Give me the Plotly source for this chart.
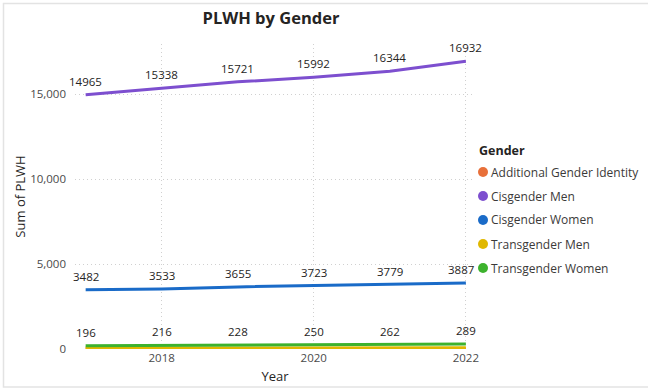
import plotly.graph_objects as go

years = [2017, 2018, 2019, 2020, 2021, 2022]
genders = ["Additional Gender Identity", "Cisgender Men", "Cisgender Women",
           "Transgender Men", "Transgender Women"]
additional_gender_identity = [8, 9, 10, 11, 12, 13]
cisgender_men = [14965, 15338, 15721, 15992, 16344, 16932]
cisgender_women = [3482, 3533, 3655, 3723, 3779, 3887]
transgender_men = [55, 58, 62, 66, 70, 78]
transgender_women = [196, 216, 228, 250, 262, 289]

series = {
    "Additional Gender Identity": additional_gender_identity,
    "Cisgender Men": cisgender_men,
    "Cisgender Women": cisgender_women,
    "Transgender Men": transgender_men,
    "Transgender Women": transgender_women,
}
colors = {
    "Additional Gender Identity": "#E8703A",
    "Cisgender Men": "#7D4FCF",
    "Cisgender Women": "#1A6BC8",
    "Transgender Men": "#E0B800",
    "Transgender Women": "#3DB22D",
}
labelled = ["Cisgender Men", "Cisgender Women", "Transgender Women"]

FONT = "Open Sans"
TEXT = "#252423"
fig = go.Figure()

# Lines, ordered so the labelled series sit on top
draw_order = ["Additional Gender Identity", "Transgender Men", "Transgender Women",
              "Cisgender Women", "Cisgender Men"]
for g in draw_order:
    fig.add_trace(go.Scatter(
        x=years, y=series[g], name=g, mode="lines",
        line=dict(color=colors[g], width=3),
        cliponaxis=False, showlegend=False, hoverinfo="skip",
    ))

annotations = []
# Data labels above each point of the labelled series
for g in labelled:
    for i, (x, v) in enumerate(zip(years, series[g])):
        # nudge the last blue label left so it clears the legend swatch
        nudge = -5 if (g == "Cisgender Women" and i == len(years) - 1) else 0
        annotations.append(dict(
            x=x, y=v, xref="x", yref="y", text=str(v), showarrow=False,
            yshift=13.5, xshift=nudge, font=dict(family=FONT, size=11.5, color=TEXT),
        ))

# plot area spans pixels x 75..475, y 44..349
L, R, T, B = 75, 475, 44, 349
W, H = 648, 392


def px(x):
    return (x - L) / (R - L)


def py(y):
    return (B - y) / (B - T)


# Hand-built legend: title, circle swatches and names
annotations.append(dict(
    x=px(477), y=py(150), xref="paper", yref="paper", xanchor="left", yanchor="middle",
    text="<b>Gender</b>", showarrow=False, font=dict(family=FONT, size=12.5, color=TEXT),
))
shapes = []
for i, g in enumerate(genders):
    cy = 172 + 24 * i
    shapes.append(dict(
        type="circle", xref="paper", yref="paper",
        x0=px(478), x1=px(488), y0=py(cy + 5), y1=py(cy - 5),
        fillcolor=colors[g], line=dict(width=0),
    ))
    annotations.append(dict(
        x=px(489), y=py(cy), xref="paper", yref="paper", xanchor="left", yanchor="middle",
        text=g, showarrow=False, font=dict(family=FONT, size=12, color="#3b3a39"),
    ))

# Card outline
shapes.append(dict(
    type="rect", xref="paper", yref="paper",
    x0=px(3.5), x1=px(700), y0=py(387), y1=py(3.5),
    line=dict(color="#E3E3E3", width=1.5), fillcolor="rgba(0,0,0,0)", layer="below",
))

fig.update_layout(
    width=W, height=H,
    margin=dict(l=L, r=W - R, t=T, b=H - B, pad=0, autoexpand=False),
    paper_bgcolor="white", plot_bgcolor="white",
    font=dict(family=FONT, color=TEXT),
    showlegend=False,
    title=dict(text="<b>PLWH by Gender</b>", x=271 / W, xref="container", xanchor="center",
               y=1 - 18 / H, yanchor="middle",
               font=dict(family=FONT, size=16.5, color=TEXT)),
    xaxis=dict(
        range=[2016.86, 2022.12],
        tickvals=[2018, 2020, 2022],
        ticktext=["2018", "2020", "2022"],
        showgrid=True, gridcolor="#D0D0D0", griddash="1px,3px", gridwidth=1,
        zeroline=False, showline=False, ticks="",
        tickfont=dict(family=FONT, size=11.5, color="#4a4a4a"),
        title=dict(text="Year", font=dict(family=FONT, size=13, color=TEXT), standoff=8),
    ),
    yaxis=dict(
        range=[0, 17950],
        tickvals=[0, 5000, 10000, 15000],
        tickformat=",",
        showgrid=True, gridcolor="#D0D0D0", griddash="1px,3px", gridwidth=1,
        zeroline=False, showline=False, ticks="", ticklabelstandoff=8,
        tickfont=dict(family=FONT, size=11.5, color="#4a4a4a"),
        title=dict(text="Sum of PLWH", font=dict(family=FONT, size=13, color=TEXT), standoff=1),
    ),
    annotations=annotations,
    shapes=shapes,
)

fig.write_html("out.html")
